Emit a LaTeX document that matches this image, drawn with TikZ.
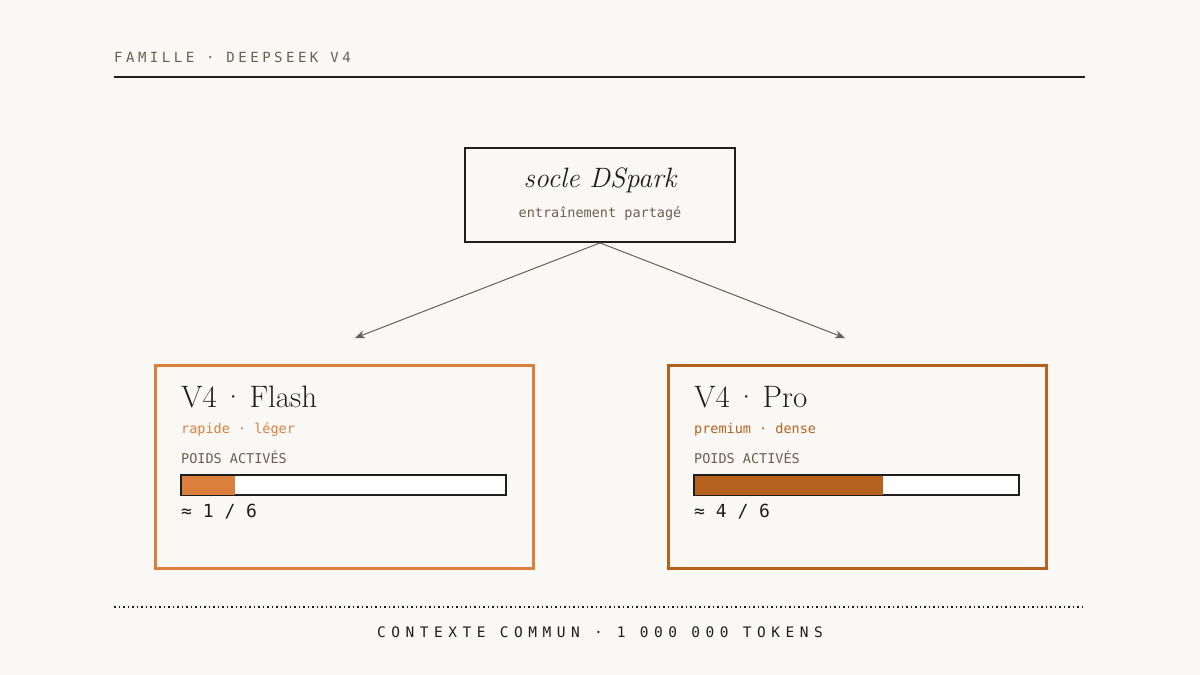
\documentclass[tikz,border=0pt]{standalone}
\usepackage{fontspec}
\setmonofont{DejaVu Sans Mono}
\newfontfamily\spaced{DejaVu Sans Mono}[LetterSpace=25]
\newfontfamily\widespaced{DejaVu Sans Mono}[LetterSpace=38]
\usetikzlibrary{arrows.meta,positioning}
\definecolor{paper}{HTML}{FAF8F4}
\definecolor{ink}{HTML}{1E1E1E}
\definecolor{muted}{HTML}{6B5F52}
\definecolor{flash}{HTML}{DB7F3C}
\definecolor{pro}{HTML}{B5621F}
\tikzset{
  card/.style={draw, line width=2.7pt, minimum width=378pt, minimum height=203pt, anchor=north west},
  mono/.style={font=\ttfamily\fontsize{13.5}{15}\selectfont, anchor=west, inner sep=0pt},
  big/.style={font=\fontsize{31}{34}\selectfont, anchor=west, inner sep=0pt},
  bar/.style={draw=ink, line width=1.2pt, fill=white, minimum width=324pt, minimum height=19pt, anchor=north west, inner sep=0pt},
  link/.style={draw=muted, line width=1pt, -{Stealth[length=10pt,width=8pt]}}
}
\begin{document}
\begin{tikzpicture}[x=1pt, y=-1pt]
\fill[paper] (0,0) rectangle (1200,675);
\useasboundingbox (0,0) rectangle (1200,675);
% header
\node[anchor=west, inner sep=0pt, text=muted, font=\spaced\fontsize{14}{16}\selectfont] (head) at (114,57) {FAMILLE · DEEPSEEK V4};
\draw[ink, line width=1.3pt] (114,77) -- (1085,77);
% shared base
\node[draw=ink, line width=1.8pt, minimum width=270pt, minimum height=94pt] (base) at (600,195) {};
\node[font=\itshape\fontsize{28}{30}\selectfont, text=ink] (basetitle) at (600,180) {socle DSpark};
\node[font=\ttfamily\fontsize{13.5}{15}\selectfont, text=muted] (basesub) at (600,214) {entraînement partagé};
\coordinate (leftend) at (355,338);
\coordinate (rightend) at (845,338);
\draw[link] (base.south) -- (leftend);
\draw[link] (base.south) -- (rightend);
% flash
\node[card, draw=flash] (flashcard) at (154,364) {};
\node[big, text=ink] (flashtitle) at (181,397) {V4\,·\,Flash};
\node[mono, text=flash] (flashsub) at (181,430) {rapide · léger};
\node[mono, text=muted] (flashlabel) at (181,457) {POIDS ACTIVÉS};
\node[bar] (flashbar) at (181,475) {};
\fill[flash] ([shift={(0.6pt,-0.6pt)}]flashbar.north west) rectangle ([xshift=54pt, yshift=0.6pt]flashbar.south west);
\draw[ink, line width=1.2pt] (flashbar.north west) rectangle (flashbar.south east);
\node[mono, text=ink, font=\ttfamily\fontsize{18}{20}\selectfont] (flashval) at (181,512) {≈ 1 / 6};
% pro
\node[card, draw=pro] (procard) at (667,364) {};
\node[big, text=ink] (protitle) at (694,397) {V4\,·\,Pro};
\node[mono, text=pro] (prosub) at (694,430) {premium · dense};
\node[mono, text=muted] (prolabel) at (694,457) {POIDS ACTIVÉS};
\node[bar] (probar) at (694,475) {};
\fill[pro] ([shift={(0.6pt,-0.6pt)}]probar.north west) rectangle ([xshift=189pt, yshift=0.6pt]probar.south west);
\draw[ink, line width=1.2pt] (probar.north west) rectangle (probar.south east);
\node[mono, text=ink, font=\ttfamily\fontsize{18}{20}\selectfont] (proval) at (694,512) {≈ 4 / 6};
% footer
\draw[ink, line width=1.3pt, dash pattern=on 1.5pt off 3pt] (114,607) -- (1085,607);
\node[inner sep=0pt, text=ink, font=\widespaced\fontsize{14.5}{16}\selectfont] (foot) at (600,632) {CONTEXTE COMMUN · 1 000 000 TOKENS};
\end{tikzpicture}
\end{document}
